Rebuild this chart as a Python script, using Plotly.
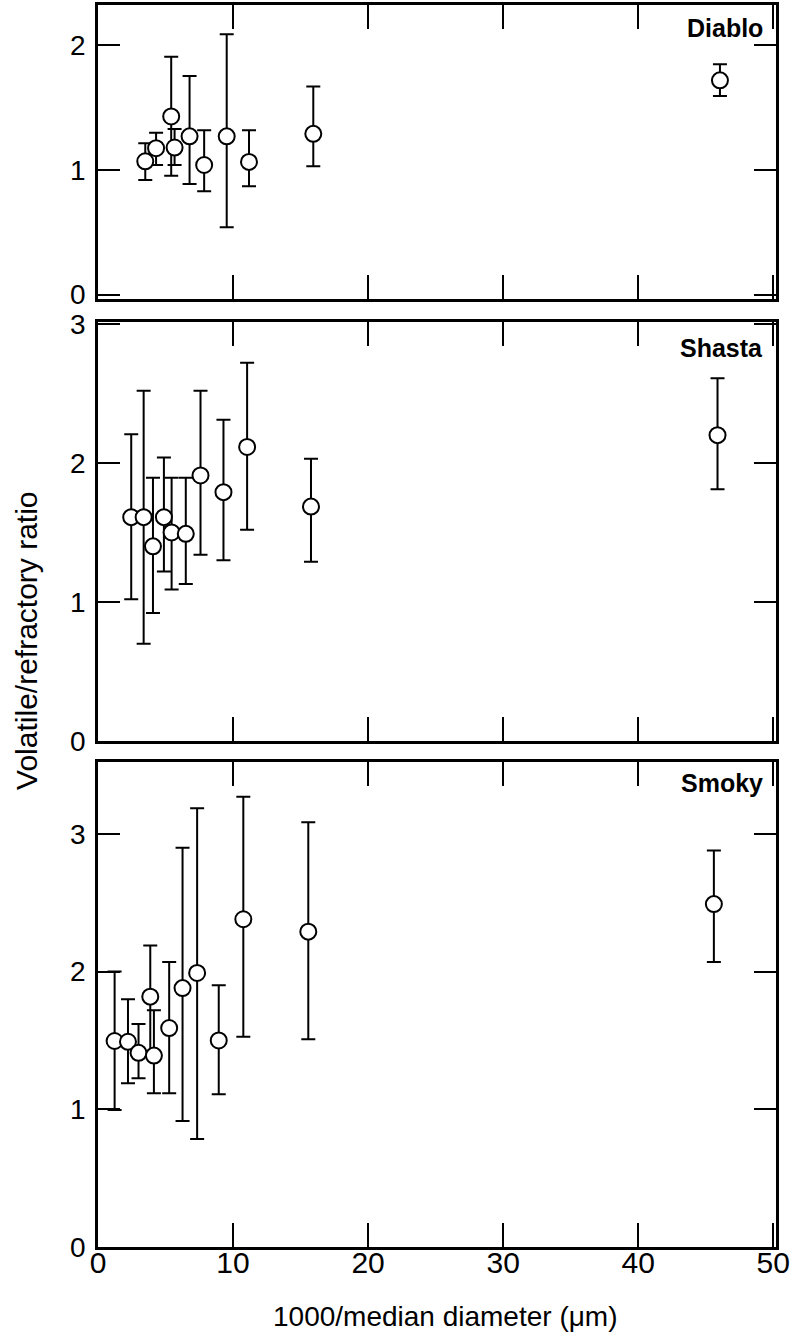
import plotly.graph_objects as go

# ---------------- data ----------------
# Diablo
diablo_x = [3.5, 4.3, 5.42, 5.67, 6.78, 7.86, 9.53, 11.18, 15.94, 46.05]
diablo_y = [1.07, 1.175, 1.43, 1.18, 1.27, 1.04, 1.27, 1.065, 1.29, 1.72]
diablo_hi = [1.215, 1.30, 1.91, 1.33, 1.755, 1.32, 2.09, 1.32, 1.67, 1.85]
diablo_lo = [0.92, 1.04, 0.954, 1.04, 0.887, 0.83, 0.54, 0.87, 1.03, 1.595]

# Shasta
shasta_x = [2.46, 3.38, 4.07, 4.88, 5.45, 6.50, 7.59, 9.29, 11.04, 15.77, 45.87]
shasta_y = [1.61, 1.61, 1.40, 1.61, 1.50, 1.49, 1.91, 1.79, 2.115, 1.686, 2.20]
shasta_hi = [2.206, 2.52, 1.894, 2.04, 1.894, 1.894, 2.52, 2.31, 2.72, 2.03, 2.61]
shasta_lo = [1.02, 0.70, 0.92, 1.22, 1.09, 1.13, 1.34, 1.30, 1.52, 1.29, 1.81]

# Smoky
smoky_x = [1.23, 2.22, 3.0, 3.87, 4.14, 5.27, 6.26, 7.34, 8.94, 10.76, 15.57, 45.6]
smoky_y = [1.496, 1.49, 1.41, 1.818, 1.39, 1.59, 1.88, 1.99, 1.50, 2.38, 2.29, 2.49]
smoky_hi = [2.00, 1.80, 1.62, 2.19, 1.72, 2.07, 2.90, 3.186, 1.90, 3.27, 3.084, 2.88]
smoky_lo = [0.995, 1.19, 1.225, 1.40, 1.116, 1.116, 0.915, 0.784, 1.11, 1.527, 1.508, 2.07]

panel_names = ["Diablo", "Shasta", "Smoky"]
x_ticks = [0, 10, 20, 30, 40, 50]
y_ticks_diablo = [0, 1, 2]
y_ticks_shasta = [0, 1, 2, 3]
y_ticks_smoky = [0, 1, 2, 3]

x_title = "1000/median diameter (\u03bcm)"
y_title = "Volatile/refractory ratio"

# ---------------- figure ----------------
FONT = "Liberation Sans, Arial, sans-serif"
fig = go.Figure()

panels = [
    (diablo_x, diablo_y, diablo_hi, diablo_lo, "x3", "y3"),
    (shasta_x, shasta_y, shasta_hi, shasta_lo, "x2", "y2"),
    (smoky_x, smoky_y, smoky_hi, smoky_lo, "x", "y"),
]
for xs, ys, hi, lo, xa, ya in panels:
    plus = [h - v for h, v in zip(hi, ys)]
    minus = [v - l for v, l in zip(ys, lo)]
    fig.add_trace(go.Scatter(
        x=xs, y=ys, mode="markers", xaxis=xa, yaxis=ya,
        marker=dict(symbol="circle", size=16, color="white",
                    line=dict(color="black", width=2)),
        error_y=dict(type="data", symmetric=False, array=plus,
                     arrayminus=minus, thickness=2, width=7, color="black"),
        showlegend=False, cliponaxis=False,
    ))

common_x = dict(range=[0, 50.2], tickvals=x_ticks, ticks="inside", ticklen=24,
                tickwidth=2, tickcolor="black", showline=True, linewidth=2.5,
                linecolor="black", mirror="ticks", showgrid=False,
                zeroline=False, automargin=False)
common_y = dict(ticks="inside", ticklen=22, tickwidth=2, tickcolor="black",
                showline=True, linewidth=2.5, linecolor="black", mirror="ticks",
                showgrid=False, zeroline=False, automargin=False,
                tickfont=dict(family=FONT, size=28, color="black"),
                ticklabelstandoff=4)

fig.update_layout(
    template="none",
    width=792, height=1342,
    margin=dict(l=98, r=16, t=5, b=95, autoexpand=False),
    paper_bgcolor="white", plot_bgcolor="white",
    font=dict(family=FONT, color="black"),
    xaxis=dict(**common_x, anchor="y",
               tickfont=dict(family=FONT, size=30, color="black"),
               showticklabels=True, ticklabelstandoff=-13),
    xaxis2=dict(**common_x, anchor="y2", matches="x", showticklabels=False),
    xaxis3=dict(**common_x, anchor="y3", matches="x", showticklabels=False),
    yaxis=dict(**common_y, domain=[0.0, 0.3905], range=[0, 3.522],
               tickvals=y_ticks_smoky, anchor="x"),
    yaxis2=dict(**common_y, domain=[0.4074, 0.7448], range=[0, 3.014],
                tickvals=y_ticks_shasta, anchor="x2"),
    yaxis3=dict(**common_y, domain=[0.7633, 1.0], range=[-0.036, 2.325],
                tickvals=y_ticks_diablo, anchor="x3"),
)

label_y = [0.9815, 0.7238, 0.3736]
for name, ly in zip(panel_names, label_y):
    fig.add_annotation(text="<b>" + name + "</b>", xref="paper", yref="paper",
                       x=0.984, y=ly, xanchor="right", yanchor="middle",
                       showarrow=False,
                       font=dict(family=FONT, size=25, color="black"))

fig.add_annotation(text=y_title, xref="paper", yref="paper", x=-0.1047,
                   y=0.488, textangle=-90, xanchor="center", yanchor="middle",
                   showarrow=False, font=dict(family=FONT, size=30, color="black"))
fig.add_annotation(text=x_title, xref="paper", yref="paper", x=0.512,
                   y=-0.0556, xanchor="center", yanchor="middle",
                   showarrow=False, font=dict(family=FONT, size=28, color="black"))

fig.write_html("out.html")
